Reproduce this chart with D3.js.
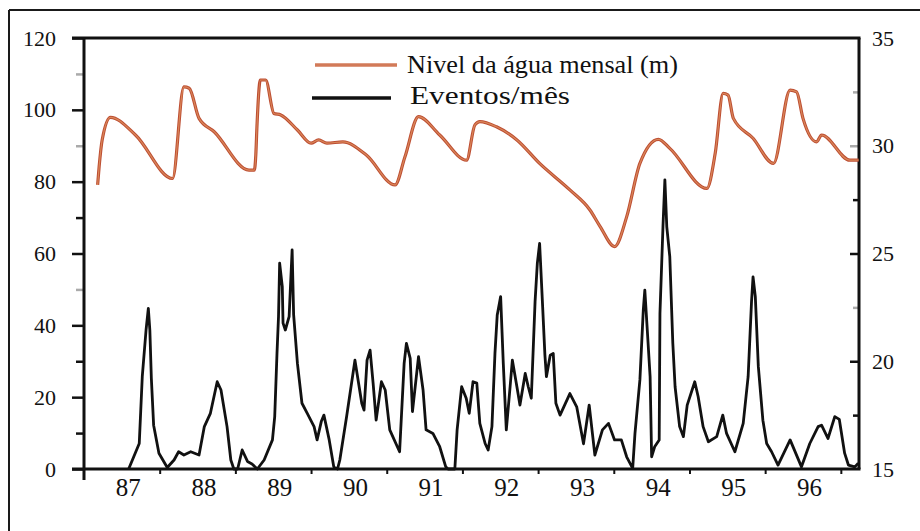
<!DOCTYPE html>
<html>
<head>
<meta charset="utf-8">
<script src="https://cdn.jsdelivr.net/npm/d3@7"></script>
<style>
  html, body { margin: 0; padding: 0; background: #fff; }
  svg { display: block; }
  text { font-family: "Liberation Serif", "DejaVu Serif", serif; fill: #111; }
</style>
</head>
<body>
<svg id="chart" width="920" height="531"></svg>
<script>
// ---- data ----
const waterYear = [1987.18,1987.20,1987.24,1987.35,1987.68,1988.17,1988.32,1988.39,1988.52,1988.72,
  1989.18,1989.25,1989.27,1989.285,1989.33,1989.40,1989.51,1989.60,1989.82,1990.00,1990.10,1990.21,
  1990.42,1990.73,1991.11,1991.24,1991.42,1991.70,1992.055,1992.165,1992.23,1992.45,1992.72,1993.02,
  1993.42,1993.685,1993.82,1994.01,1994.17,1994.345,1994.59,1994.74,1995.23,1995.34,1995.445,1995.51,
  1995.58,1995.84,1996.11,1996.33,1996.415,1996.50,1996.68,1996.745,1997.12,1997.235];
const waterLevel = [28.18,29.03,30.27,31.32,30.50,28.48,32.73,32.67,31.27,30.65,
  28.87,28.87,29.57,30.88,33.05,33.05,31.50,31.43,30.73,30.12,30.27,30.12,
  30.18,29.57,28.18,29.48,31.35,30.50,29.33,30.97,31.12,30.88,30.27,29.18,
  27.95,27.02,26.25,25.32,26.70,29.18,30.30,29.88,28.02,29.65,32.43,32.35,
  31.27,30.35,29.18,32.58,32.50,31.27,30.18,30.50,29.33,29.33];

const eventYear = [1987.59,1987.73,1987.77,1987.82,1987.85,1987.87,1987.89,1987.92,1987.99,1988.10,
  1988.19,1988.25,1988.32,1988.41,1988.52,1988.59,1988.67,1988.76,1988.81,1988.89,1988.94,1988.98,
  1989.03,1989.09,1989.16,1989.22,1989.29,1989.38,1989.49,1989.52,1989.55,1989.57,1989.585,1989.62,
  1989.63,1989.66,1989.71,1989.75,1989.77,1989.82,1989.88,1989.95,1990.04,1990.08,1990.135,1990.17,
  1990.24,1990.30,1990.35,1990.38,1990.47,1990.58,1990.67,1990.70,1990.74,1990.78,1990.82,1990.86,
  1990.93,1990.98,1991.04,1991.17,1991.23,1991.26,1991.31,1991.34,1991.42,1991.48,1991.52,1991.61,
  1991.70,1991.78,1991.81,1991.90,1991.93,1991.99,1992.05,1992.09,1992.14,1992.19,1992.23,1992.30,
  1992.34,1992.39,1992.43,1992.46,1992.505,1992.54,1992.58,1992.63,1992.66,1992.72,1992.76,1992.83,
  1992.87,1992.91,1992.96,1992.99,1993.02,1993.06,1993.09,1993.11,1993.16,1993.20,1993.235,1993.29,
  1993.42,1993.51,1993.60,1993.675,1993.75,1993.85,1993.93,1994.01,1994.10,1994.17,1994.25,1994.28,
  1994.345,1994.39,1994.41,1994.44,1994.48,1994.50,1994.54,1994.60,1994.61,1994.65,1994.675,1994.70,
  1994.74,1994.78,1994.81,1994.87,1994.92,1994.97,1995.07,1995.115,1995.18,1995.25,1995.36,1995.44,
  1995.49,1995.60,1995.71,1995.775,1995.82,1995.84,1995.87,1995.91,1995.97,1996.02,1996.085,1996.17,
  1996.33,1996.48,1996.59,1996.70,1996.745,1996.83,1996.92,1996.98,1997.05,1997.10,1997.185,1997.23];
const eventCount = [0,7.1,25.7,38.7,44.7,38.7,25.2,12.2,4.4,0.4,
  2.5,4.8,3.9,4.8,3.9,11.8,15.5,24.3,22,11.8,2.5,0,
  0,5.3,2.1,1.4,0,2.5,8.1,14.6,32.2,42.4,57.3,50.8,
  40.6,38.7,42.4,61,42.9,29.4,18.3,15.5,11.8,8.1,13.2,15,
  8.1,0.6,0,2.5,14.6,30.3,18.3,16.4,30.3,33.1,23.9,13.6,
  24.3,22,10.9,4.8,29.4,35,30.8,16,31.3,22,10.9,9.9,
  6.2,0.6,0,0,10.9,22.9,19.7,15.5,24.3,23.9,12.7,7.1,
  5.3,11.8,32.2,42.9,48,29.4,10.9,22.9,30.3,22.9,17.8,26.6,
  22.9,19.7,46.6,57.3,62.8,45.2,31.7,25.7,31.7,32.2,18.3,15,
  21,17.3,7,17.8,3.9,10.9,12.7,8.1,8.1,3.4,0.2,9.9,
  24.8,44.3,49.8,39.6,25.7,3.4,6.2,8.1,43.3,67.5,80.5,67.5,
  59.1,35,22.9,11.8,9,17.8,24.3,20.1,11.8,7.6,9,15,
  9.9,4.8,12.7,25.7,46.6,53.5,48,28.5,13.6,7.1,4.8,1.1,
  8.1,0.6,7.1,11.8,12.2,8.5,14.6,13.8,4.4,1.1,0.6,1.6];

const leftTicks = [0,20,40,60,80,100,120];
const leftMinor = [10,30,50,70,90,110];
const rightTicks = [15,20,25,30,35];
const rightMinor = [17.5,22.5,27.5,32.5];
const yearTicks = [1988,1989,1990,1991,1992,1993,1994,1995,1996,1997];
const yearLabels = [1987,1988,1989,1990,1991,1992,1993,1994,1995,1996];
const legendLabels = ["Nivel da água mensal (m)", "Eventos/mês"];

// ---- layout ----
const svg = d3.select("#chart");
const W = 920, H = 531;
const m = {left: 84, top: 38, right: 61, bottom: 62};
const x = d3.scaleLinear().domain([1987, 1997.24]).range([m.left, W - m.right]);
const yL = d3.scaleLinear().domain([0, 120]).range([H - m.bottom, m.top]);
const yR = d3.scaleLinear().domain([15, 35]).range([H - m.bottom, m.top]);

// outer frame (top and left edges)
svg.append("line").attr("x1", 9).attr("y1", 10).attr("x2", W).attr("y2", 10)
  .attr("stroke", "#1a1a1a").attr("stroke-width", 2);
svg.append("line").attr("x1", 9).attr("y1", 10).attr("x2", 9).attr("y2", H)
  .attr("stroke", "#1a1a1a").attr("stroke-width", 2);

// left axis
const gL = svg.append("g").attr("transform", `translate(${m.left},0)`)
  .call(d3.axisLeft(yL).tickValues(leftTicks).tickSize(12).tickPadding(16).tickSizeOuter(0));
gL.select(".domain").remove();
gL.selectAll("line").attr("stroke", "#111").attr("stroke-width", 2.5);
gL.selectAll("text").style("font-size", "22px").style("font-family", "Liberation Serif");
const gLm = svg.append("g").attr("transform", `translate(${m.left},0)`)
  .call(d3.axisLeft(yL).tickValues(leftMinor).tickSize(8).tickFormat(""));
gLm.select(".domain").remove();
gLm.selectAll("line").attr("stroke", (d) => (d === 50 || d === 90 || d === 110) ? "#aaa" : "#111")
  .attr("stroke-width", 2.5);

// right axis
const gR = svg.append("g").attr("transform", `translate(${W - m.right},0)`)
  .call(d3.axisRight(yR).tickValues(rightTicks).tickSize(-9).tickPadding(13).tickSizeOuter(0)
    .tickFormat(d3.format("d")));
gR.select(".domain").remove();
gR.selectAll("line").attr("stroke", (d) => (d === 20 || d === 25) ? "#111" : (d === 30 ? "#aaa" : "none"))
  .attr("stroke-width", 2.5);
gR.selectAll("text").style("font-size", "22px").style("font-family", "Liberation Serif");
const gRm = svg.append("g").attr("transform", `translate(${W - m.right},0)`)
  .call(d3.axisRight(yR).tickValues(rightMinor).tickSize(-6).tickFormat(""));
gRm.select(".domain").remove();
gRm.selectAll("line").attr("stroke", (d) => d === 17.5 || d === 27.5 ? "#111" : "#aaa").attr("stroke-width", 2.5);

// bottom axis: year boundary ticks
const gB = svg.append("g").attr("transform", `translate(0,${H - m.bottom})`)
  .call(d3.axisBottom(x).tickValues(yearTicks).tickSize(5).tickFormat(""));
gB.select(".domain").remove();
gB.selectAll("line").attr("stroke", "#111").attr("stroke-width", 2);
// year labels (mid-year)
const gBl = svg.append("g").attr("transform", `translate(0,${H - m.bottom})`)
  .call(d3.axisBottom(x).tickValues(yearLabels.map(d => d + 0.5)).tickSize(0).tickPadding(9)
    .tickFormat(d => String(Math.floor(d)).slice(2)));
gBl.select(".domain").remove();
gBl.selectAll("text").attr("dx", 6).style("font-size", "25px").style("font-family", "Liberation Serif");

// plot box
const x0 = x.range()[0], x1 = x.range()[1];
const yb = yL(0), yt = yL(120);
const box = svg.append("g").attr("stroke", "#111").attr("stroke-width", 3).attr("fill", "none");
box.append("line").attr("x1", x0 - 12).attr("y1", yt).attr("x2", x1 + 1.5).attr("y2", yt);
box.append("line").attr("x1", x0 - 12).attr("y1", yb).attr("x2", x1 + 1.5).attr("y2", yb);
box.append("line").attr("x1", x0).attr("y1", yt).attr("x2", x0).attr("y2", yb + 11);
box.append("line").attr("x1", x1).attr("y1", yt).attr("x2", x1).attr("y2", yb);

// water level line
const water = waterYear.map((t, i) => [t, waterLevel[i]]);
const wLine = d3.line().x(d => x(d[0])).y(d => yR(d[1])).curve(d3.curveMonotoneX);
svg.append("path").datum(water).attr("d", wLine)
  .attr("fill", "none").attr("stroke", "#bd4e33").attr("stroke-width", 3.2).attr("stroke-linejoin", "round");
svg.append("path").datum(water).attr("d", wLine)
  .attr("fill", "none").attr("stroke", "#e39a66").attr("stroke-width", 1.2).attr("opacity", 0.75);

// events line
const events = eventYear.map((t, i) => [t, eventCount[i]]);
const eLine = d3.line().x(d => x(d[0])).y(d => yL(d[1]));
svg.append("path").datum(events).attr("d", eLine)
  .attr("fill", "none").attr("stroke", "#111").attr("stroke-width", 2.8).attr("stroke-linejoin", "round");

// legend
const lg = svg.append("g");
lg.append("line").attr("x1", 315).attr("x2", 397).attr("y1", 65).attr("y2", 65)
  .attr("stroke", "#d27a58").attr("stroke-width", 3.5);
lg.append("text").attr("x", 407).attr("y", 73).text(legendLabels[0])
  .style("font-size", "26px").attr("textLength", 271).attr("lengthAdjust", "spacingAndGlyphs");
lg.append("line").attr("x1", 312).attr("x2", 391).attr("y1", 98).attr("y2", 98)
  .attr("stroke", "#111").attr("stroke-width", 3.5);
lg.append("text").attr("x", 410).attr("y", 104).text(legendLabels[1])
  .style("font-size", "26px").attr("textLength", 160).attr("lengthAdjust", "spacingAndGlyphs");
</script>
</body>
</html>
